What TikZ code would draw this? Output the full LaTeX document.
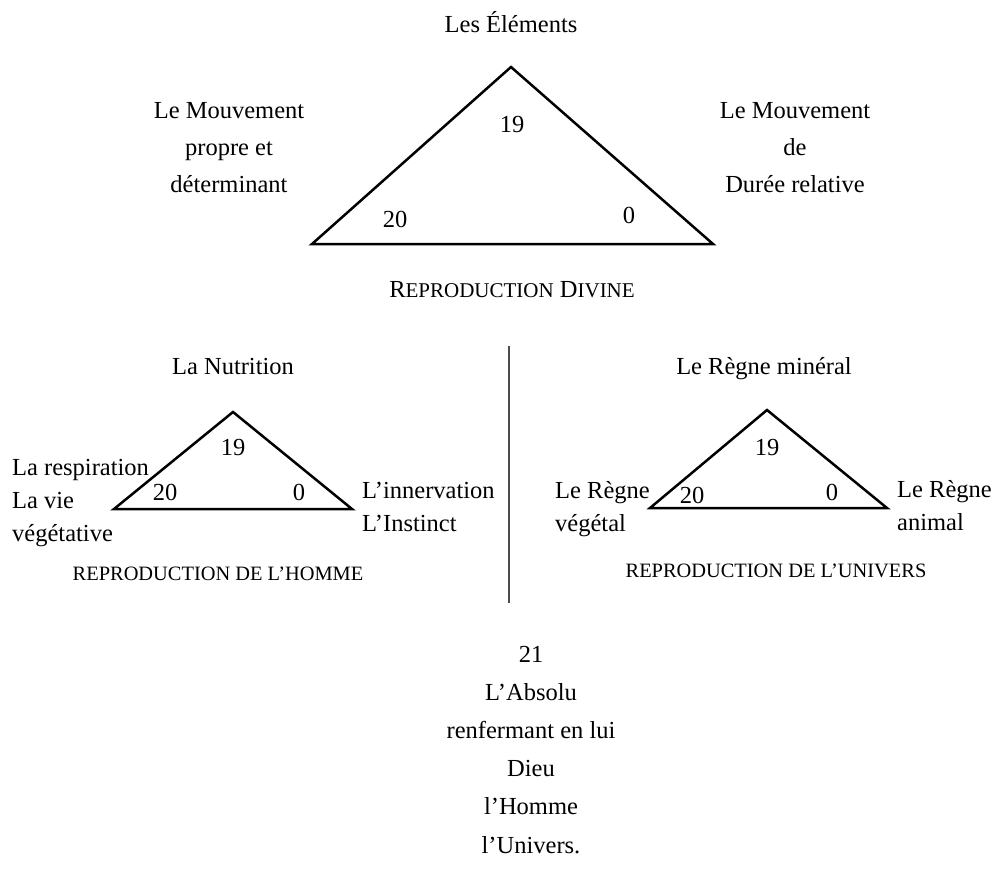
\documentclass[tikz,border=0pt]{standalone}
\usepackage{fontspec}
\setmainfont{Liberation Serif}
\newcommand\smcap[1]{{\fontsize{21bp}{21bp}\selectfont #1}}
\begin{document}
\begin{tikzpicture}[
  x=1bp, y=-1bp,
  node distance=38.2bp,
  every node/.style={inner sep=0pt, font=\fontsize{24.5bp}{37bp}\selectfont},
  lbl/.style={anchor=base, align=center},
  side/.style={anchor=base west, align=left, font=\fontsize{24.5bp}{33bp}\selectfont},
  num/.style={anchor=base},
  caps/.style={anchor=base, font=\fontsize{20.4bp}{20.4bp}\selectfont},
  line/.style={text height=17bp, text depth=5bp},
  tri/.style={line width=2.5bp, line join=miter},
  sep/.style={line width=2bp, black!70}
]
\useasboundingbox (0,0) rectangle (995,872);

\coordinate (divTop) at (511,67);
\coordinate (divLeft) at (312,244);
\coordinate (divRight) at (713,244);
\draw[tri] (divTop) -- (divRight) -- (divLeft) -- cycle;
\node[lbl] (elements) at (511,32) {Les Éléments};
\node[lbl] (mvtPropre) at (229,192) {Le Mouvement\\propre et\\déterminant};
\node[lbl] (mvtDuree) at (795,192) {Le Mouvement\\de\\Durée relative};
\node[num] (div19) at (512,132) {19};
\node[num] (div20) at (395,227) {20};
\node[num] (div0) at (629,223) {0};
\node[lbl] (divine) at (512,297) {R\smcap{EPRODUCTION} D\smcap{IVINE}};

\coordinate (sepTop) at (509,346);
\coordinate (sepBot) at (509,603);
\draw[sep] (sepTop) -- (sepBot);

\coordinate (homTop) at (233,412);
\coordinate (homLeft) at (114,509);
\coordinate (homRight) at (352,509);
\draw[tri] (homTop) -- (homRight) -- (homLeft) -- cycle;
\node[lbl] (nutrition) at (233,374) {La Nutrition};
\node[side] (respiration) at (12,541) {La respiration\\La vie\\végétative};
\node[side] (innervation) at (362,531) {L’innervation\\L’Instinct};
\node[num] (hom19) at (233,455) {19};
\node[num] (hom20) at (165,500) {20};
\node[num] (hom0) at (299,500) {0};
\node[caps] (homme) at (218,580) {REPRODUCTION DE L’HOMME};

\coordinate (uniTop) at (767,410);
\coordinate (uniLeft) at (650,508);
\coordinate (uniRight) at (887,508);
\draw[tri] (uniTop) -- (uniRight) -- (uniLeft) -- cycle;
\node[lbl] (mineral) at (764,374) {Le Règne minéral};
\node[side] (vegetal) at (555,531) {Le Règne\\végétal};
\node[side] (animal) at (897,530) {Le Règne\\animal};
\node[num] (uni19) at (767,455) {19};
\node[num] (uni20) at (692,503) {20};
\node[num] (uni0) at (832,500) {0};
\node[caps] (univers) at (776,577) {REPRODUCTION DE L’UNIVERS};

\node[line] (abs21) at (531,656) {21};
\node[line] (absolu) [below of=abs21] {L’Absolu};
\node[line] (renferme) [below of=absolu] {renfermant en lui};
\node[line] (dieu) [below of=renferme] {Dieu};
\node[line] (homme2) [below of=dieu] {l’Homme};
\node[line] (univers2) [below of=homme2] {l’Univers.};
\end{tikzpicture}
\end{document}
